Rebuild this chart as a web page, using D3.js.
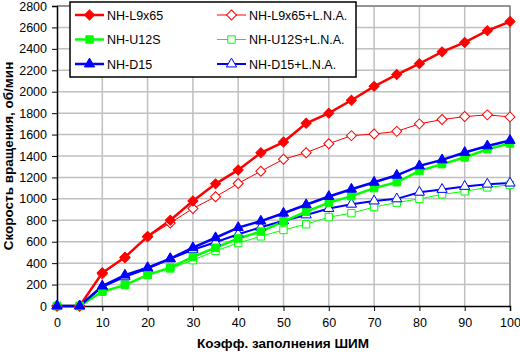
<!DOCTYPE html>
<html>
<head>
<meta charset="utf-8">
<script src="https://cdn.jsdelivr.net/npm/d3@7"></script>
<style>
  body { margin: 0; background: #fff; }
  svg text { font-family: Arial, "Liberation Sans", sans-serif; }
</style>
</head>
<body>
<svg id="chart" width="520" height="352"></svg>
<script>
// Data
const pwm = [0, 5, 10, 15, 20, 25, 30, 35, 40, 45, 50, 55, 60, 65, 70, 75, 80, 85, 90, 95, 100];
const l9 = [0, 0, 310, 455, 650, 800, 980, 1140, 1270, 1430, 1530, 1705, 1800, 1920, 2050, 2160, 2262, 2372, 2460, 2570, 2655];
const l9Lna = [0, 0, 300, 450, 645, 775, 910, 1020, 1144, 1258, 1370, 1431, 1515, 1590, 1605, 1630, 1700, 1740, 1768, 1784, 1765];
const u12s = [0, 0, 135, 195, 290, 358, 458, 544, 630, 695, 790, 880, 965, 1025, 1100, 1155, 1261, 1324, 1386, 1463, 1516];
const u12sLna = [0, 0, 135, 200, 290, 350, 428, 514, 588, 650, 710, 763, 830, 866, 924, 965, 1000, 1042, 1070, 1107, 1130];
const d15 = [0, 0, 186, 288, 358, 442, 544, 637, 732, 792, 866, 945, 1022, 1090, 1155, 1220, 1308, 1364, 1433, 1494, 1545];
const d15Lna = [0, 0, 180, 272, 350, 440, 525, 595, 670, 735, 795, 850, 910, 950, 980, 1000, 1062, 1088, 1116, 1137, 1147];

const xTicks = d3.range(0, 101, 10);
const yTicks = d3.range(0, 2801, 200);

const series = [
  { name: "NH-L9x65", values: l9, color: "#ff0000", width: 2.5, shape: "diamond", size: 50, filled: true, col: 0, row: 0 },
  { name: "NH-L9x65+L.N.A.", values: l9Lna, color: "#ff0000", width: 1, shape: "diamond", size: 50, filled: false, col: 1, row: 0 },
  { name: "NH-U12S", values: u12s, color: "#00ff00", width: 2.5, shape: "square", size: 55, filled: true, col: 0, row: 1 },
  { name: "NH-U12S+L.N.A.", values: u12sLna, color: "#00ff00", width: 1, shape: "square", size: 55, filled: false, col: 1, row: 1 },
  { name: "NH-D15", values: d15, color: "#0000ff", width: 2.5, shape: "triangle", size: 45, filled: true, col: 0, row: 2 },
  { name: "NH-D15+L.N.A.", values: d15Lna, color: "#0000ff", width: 2, shape: "triangle", size: 45, filled: false, col: 1, row: 2 }
];

const svg = d3.select("#chart");
const plotLeft = 57, plotRight = 510, plotTop = 6, plotBottom = 306;

const x = d3.scaleLinear().domain([0, 100]).range([plotLeft, plotRight]);
const y = d3.scaleLinear().domain([0, 2800]).range([plotBottom, plotTop]);

// grid
const grid = svg.append("g");
grid.selectAll(".gx").data(xTicks.slice(1)).join("line")
  .attr("x1", d => x(d)).attr("x2", d => x(d))
  .attr("y1", plotTop).attr("y2", plotBottom)
  .attr("stroke", "#c0c0c0").attr("stroke-width", 1.5);
grid.selectAll(".gy").data(yTicks.slice(1)).join("line")
  .attr("x1", plotLeft).attr("x2", plotRight)
  .attr("y1", d => y(d)).attr("y2", d => y(d))
  .attr("stroke", "#c0c0c0").attr("stroke-width", 1.5);

// frame (top/right grey)
svg.append("path")
  .attr("d", `M${plotLeft},${plotTop}H${plotRight}V${plotBottom}`)
  .attr("fill", "none").attr("stroke", "#808080").attr("stroke-width", 1.5);

// axes
const xAxis = svg.append("g")
  .attr("transform", `translate(0,${plotBottom})`)
  .call(d3.axisBottom(x).tickValues(xTicks).tickFormat(d3.format("d"))
    .tickSizeOuter(0).tickSize(5).tickPadding(7));
const yAxis = svg.append("g")
  .attr("transform", `translate(${plotLeft},0)`)
  .call(d3.axisLeft(y).tickValues(yTicks).tickFormat(d3.format("d"))
    .tickSizeOuter(0).tickSize(5).tickPadding(5));
[xAxis, yAxis].forEach(a => {
  a.select(".domain").attr("stroke", "#000").attr("stroke-width", 1.5);
  a.selectAll(".tick line").attr("stroke", "#000");
  a.selectAll("text").attr("font-size", 12.5).attr("fill", "#000")
    .attr("font-family", "Arial, 'Liberation Sans', sans-serif");
});

// axis titles
svg.append("text")
  .attr("x", 283).attr("y", 348)
  .attr("text-anchor", "middle")
  .attr("font-size", 13.5).attr("font-weight", "bold")
  .text("Коэфф. заполнения ШИМ");
svg.append("text")
  .attr("transform", `translate(13,${(plotTop + plotBottom) / 2}) rotate(-90)`)
  .attr("text-anchor", "middle")
  .attr("font-size", 13.5).attr("font-weight", "bold")
  .text("Скорость вращения, об/мин");

// lines and markers
const line = d3.line().x((d, i) => x(pwm[i])).y(d => y(d));

function drawMarker(g, s, px, py) {
  let type = d3.symbolSquare, rot = 0;
  if (s.shape === "diamond") rot = 45;
  if (s.shape === "triangle") type = d3.symbolTriangle;
  const sym = d3.symbol().type(type).size(s.size);
  g.append("path")
    .attr("d", sym())
    .attr("transform", `translate(${px},${py}) rotate(${rot})`)
    .attr("fill", s.filled ? s.color : "#fff")
    .attr("stroke", s.color)
    .attr("stroke-width", 1);
}

const plot = svg.append("g");
// draw thin (LNA) series first, then filled series on top
const order = [1, 3, 5, 0, 2, 4];
order.forEach(k => {
  const s = series[k];
  plot.append("path")
    .datum(s.values)
    .attr("d", line)
    .attr("fill", "none")
    .attr("stroke", s.color)
    .attr("stroke-width", s.width);
});
order.forEach(k => {
  const s = series[k];
  const g = plot.append("g");
  s.values.forEach((v, i) => drawMarker(g, s, x(pwm[i]), y(v)));
});

// legend
const legend = svg.append("g");
legend.append("rect")
  .attr("x", 70).attr("y", 2).attr("width", 286).attr("height", 75)
  .attr("fill", "#fff").attr("stroke", "#000").attr("stroke-width", 1.5);
const colX = [75, 217], rowY = [15, 39.5, 64];
series.forEach(s => {
  const lx = colX[s.col], ly = rowY[s.row];
  legend.append("line")
    .attr("x1", lx).attr("x2", lx + 29)
    .attr("y1", ly).attr("y2", ly)
    .attr("stroke", s.color).attr("stroke-width", s.width);
  drawMarker(legend, s, lx + 14.5, ly);
  legend.append("text")
    .attr("x", lx + 32).attr("y", ly + 4.5)
    .attr("font-size", 12.5)
    .text(s.name);
});
</script>
</body>
</html>
